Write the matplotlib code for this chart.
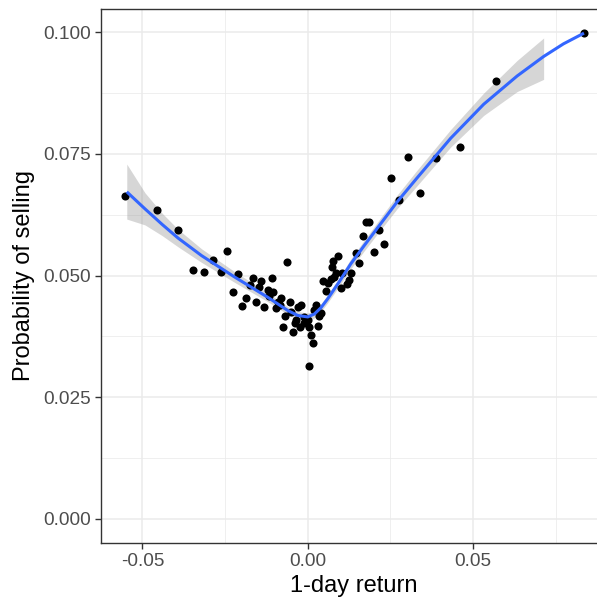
import numpy as np
import matplotlib
matplotlib.use("Agg")
import matplotlib.pyplot as plt
from matplotlib.ticker import MultipleLocator, FormatStrFormatter

plt.rcParams['font.family'] = ['Liberation Sans', 'DejaVu Sans']

# scatter points (1-day return, probability of selling)
ret = [-0.0552, -0.0455, -0.0392, -0.0346, -0.0314, -0.0285, -0.0263, -0.0243,
       -0.0226, -0.0212, -0.0198, -0.0186, -0.0176, -0.0164, -0.0156, -0.0146,
       -0.0141, -0.0131, -0.0120, -0.0116, -0.0108, -0.0104, -0.0095, -0.0090,
       -0.0085, -0.0080, -0.0075, -0.0070, -0.0063, -0.0055, -0.0050, -0.0045,
       -0.0040, -0.0035, -0.0030, -0.0022, -0.0020, -0.0012, -0.0010, 0.0002,
       0.0003, 0.0005, 0.0010, 0.0015, 0.0020, 0.0025, 0.0030, 0.0035,
       0.0040, 0.0045, 0.0055, 0.0060, 0.0070, 0.0072, 0.0075, 0.0080,
       0.0085, 0.0092, 0.0100, 0.0105, 0.0120, 0.0125, 0.0130, 0.0145,
       0.0155, 0.0166, 0.0176, 0.0186, 0.0201, 0.0216, 0.0231, 0.0252,
       0.0276, 0.0303, 0.0339, 0.0389, 0.0459, 0.0570, 0.0835]
prob = [0.0664, 0.0635, 0.0594, 0.0511, 0.0508, 0.0531, 0.0508, 0.0550,
        0.0466, 0.0503, 0.0438, 0.0454, 0.0480, 0.0495, 0.0446, 0.0476,
        0.0488, 0.0436, 0.0470, 0.0457, 0.0494, 0.0467, 0.0433, 0.0446,
        0.0440, 0.0453, 0.0395, 0.0416, 0.0528, 0.0446, 0.0425, 0.0384,
        0.0402, 0.0409, 0.0436, 0.0395, 0.0440, 0.0415, 0.0402, 0.0409,
        0.0314, 0.0395, 0.0378, 0.0362, 0.0430, 0.0440, 0.0397, 0.0416,
        0.0423, 0.0488, 0.0469, 0.0484, 0.0492, 0.0517, 0.0529, 0.0498,
        0.0505, 0.0540, 0.0474, 0.0505, 0.0482, 0.0491, 0.0505, 0.0546,
        0.0525, 0.0581, 0.0611, 0.0609, 0.0549, 0.0594, 0.0564, 0.0701,
        0.0655, 0.0744, 0.0670, 0.0742, 0.0764, 0.0899, 0.0999]

# smoothed fit and its confidence band
fit_x = [-0.0547, -0.0492, -0.0440, -0.0392, -0.0321, -0.0221, -0.0120, -0.0060,
         -0.0030, 0.0000, 0.0020, 0.0040, 0.0060, 0.0095, 0.0130, 0.0170,
         0.0211, 0.0271, 0.0331, 0.0432, 0.0532, 0.0633, 0.0713, 0.0773, 0.0835]
fit_y = [0.0672, 0.0637, 0.0605, 0.0577, 0.0541, 0.0497, 0.0455, 0.0428,
         0.0418, 0.0415, 0.0421, 0.0434, 0.0452, 0.0487, 0.0524, 0.0561,
         0.0598, 0.0652, 0.0701, 0.0782, 0.0852, 0.0910, 0.0950, 0.0976, 0.0998]
band_lo = [0.0616, 0.0604, 0.0582, 0.0559, 0.0527, 0.0486, 0.0446, 0.0420,
           0.0410, 0.0407, 0.0413, 0.0426, 0.0444, 0.0478, 0.0514, 0.0550,
           0.0586, 0.0638, 0.0685, 0.0764, 0.0829, 0.0878, 0.0903]
band_hi = [0.0729, 0.0670, 0.0628, 0.0595, 0.0555, 0.0508, 0.0464, 0.0436,
           0.0426, 0.0423, 0.0429, 0.0442, 0.0460, 0.0496, 0.0534, 0.0572,
           0.0610, 0.0666, 0.0717, 0.0800, 0.0875, 0.0942, 0.0988]

fig = plt.figure(figsize=(5.97, 6.06), dpi=100)
ax = fig.add_axes([0.1697, 0.1045, 0.8462, 0.8802])

ax.fill_between(fit_x[:len(band_lo)], band_lo, band_hi, color='#999999', alpha=0.4, lw=0, zorder=2)
ax.scatter(ret, prob, s=34, color='black', lw=0, zorder=3)
ax.plot(fit_x, fit_y, color='#3366FF', lw=2.2, zorder=4, solid_capstyle='butt', solid_joinstyle='round')

ax.set_xlim(-0.0624, 0.0903)
ax.set_ylim(-0.00487, 0.1047)
ax.xaxis.set_major_locator(MultipleLocator(0.05))
ax.xaxis.set_minor_locator(MultipleLocator(0.025))
ax.yaxis.set_major_locator(MultipleLocator(0.025))
ax.yaxis.set_minor_locator(MultipleLocator(0.0125))
ax.xaxis.set_major_formatter(FormatStrFormatter('%.2f'))
ax.yaxis.set_major_formatter(FormatStrFormatter('%.3f'))

ax.grid(which='major', color='#EBEBEB', lw=1.1, zorder=0)
ax.grid(which='minor', color='#EBEBEB', lw=0.55, zorder=0)
ax.set_axisbelow(True)
for sp in ax.spines.values():
    sp.set_color('#333333')
    sp.set_linewidth(1.0)

ax.tick_params(which='major', length=4.2, width=1.0, color='#333333',
               labelsize=13.7, labelcolor='#4D4D4D', pad=3)
ax.tick_params(which='minor', length=0)

ax.set_xlabel('1-day return', fontsize=17, labelpad=4)
ax.set_ylabel('Probability of selling', fontsize=17, labelpad=6)

fig.savefig('out.png', dpi=100)
